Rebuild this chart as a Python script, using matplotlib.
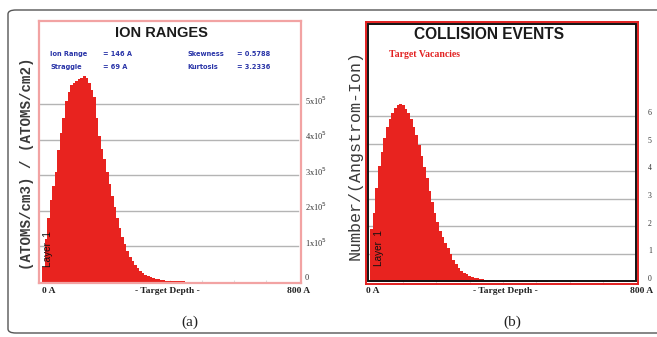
import numpy as np
import matplotlib.pyplot as plt
from matplotlib.patches import FancyBboxPatch, Rectangle

# SRIM style histograms, 8 A bins starting at 0 A
bin_w = 8.0

# ion ranges, (ATOMS/cm3)/(ATOMS/cm2), units of 1e5
ion_vals = [0.4, 1.2, 1.8, 2.3, 2.7, 3.1, 3.7, 4.2, 4.6, 5.1,
            5.35, 5.55, 5.6, 5.65, 5.72, 5.75, 5.8, 5.75, 5.6, 5.4,
            5.2, 4.6, 4.1, 3.75, 3.45, 3.1, 2.75, 2.4, 2.1, 1.8,
            1.5, 1.25, 1.05, 0.85, 0.7, 0.58, 0.47, 0.38, 0.3, 0.24,
            0.19, 0.15, 0.12, 0.09, 0.07, 0.06, 0.05, 0.04, 0.03, 0.03,
            0.02, 0.02, 0.015, 0.01, 0.01, 0.005]

# target vacancies, Number/(Angstrom-Ion)
vac_vals = [1.9, 2.5, 3.4, 4.2, 4.7, 5.2, 5.6, 5.9, 6.1, 6.3,
            6.42, 6.45, 6.4, 6.25, 6.1, 5.9, 5.6, 5.3, 4.95, 4.55,
            4.15, 3.75, 3.3, 2.9, 2.5, 2.15, 1.85, 1.6, 1.4, 1.2,
            1.0, 0.8, 0.65, 0.5, 0.4, 0.32, 0.26, 0.21, 0.17, 0.14,
            0.12, 0.1, 0.08, 0.07, 0.06, 0.05, 0.04, 0.035, 0.03, 0.025,
            0.02, 0.02, 0.015, 0.015, 0.01, 0.01, 0.01, 0.01, 0.01, 0.01,
            0.01, 0.01, 0.01, 0.01, 0.01, 0.01, 0.005]

ion_ticks = [0, 1, 2, 3, 4, 5]
ion_ticklabels = ['0', r'1x10$^{5}$', r'2x10$^{5}$', r'3x10$^{5}$', r'4x10$^{5}$', r'5x10$^{5}$']
vac_ticks = [0, 1, 2, 3, 4, 5, 6]

info_left = [('Ion Range', '= 146 A'), ('Straggle', '= 69 A')]
info_right = [('Skewness', '= 0.5788'), ('Kurtosis', '= 3.2336')]

red = '#e8231f'
grid_c = '#b4b4b4'
W, H = 657, 337

fig = plt.figure(figsize=(W / 100, H / 100), dpi=100)

# outer rounded frame (runs off the right edge)
frame = FancyBboxPatch((8 / W, 1 - 333 / H), 700 / W, (333 - 10) / H,
                       boxstyle='round,pad=0,rounding_size=0.012',
                       transform=fig.transFigure, fill=False,
                       ec='#555555', lw=1.0, clip_on=False)
fig.patches.append(frame)


def px_axes(x0, x1, y0, y1):
    return fig.add_axes([x0 / W, 1 - y1 / H, (x1 - x0) / W, (y1 - y0) / H])


def draw_hist(ax, vals, gridticks, grid_xmax):
    depth = np.arange(len(vals)) * bin_w
    for t in gridticks[1:]:
        ax.axhline(t, xmin=0, xmax=grid_xmax, color=grid_c, lw=1.0, zorder=1)
    ax.bar(depth, vals, width=bin_w, align='edge', color=red, lw=0, zorder=2)
    ax.set_xticks([100, 200, 300, 400, 500, 600, 700])
    ax.tick_params(axis='x', direction='in', length=2, color='#dddddd',
                   labelbottom=False, bottom=True)
    ax.set_yticks([])


# ---------------- (a) ION RANGES ----------------
axa = px_axes(38.5, 301.5, 21, 283)
axa.set_xlim(-11, 811)
axa.set_ylim(-0.04, 7.35)
draw_hist(axa, ion_vals, ion_ticks, 0.985)
for s in axa.spines.values():
    s.set_color('#f2a3a3')
    s.set_linewidth(1.6)

axa.text(0.466, 0.955, 'ION RANGES', transform=axa.transAxes, ha='center',
         va='center', fontsize=10.5, fontweight='bold', family='Liberation Sans',
         color='#1a1a1a')
for i, (k, v) in enumerate(info_left):
    y = 0.875 - i * 0.05
    axa.text(0.045, y, k, transform=axa.transAxes, fontsize=4.8,
             fontweight='bold', color='#2a35a8', va='center')
    axa.text(0.245, y, v, transform=axa.transAxes, fontsize=4.8,
             fontweight='bold', color='#2a35a8', va='center')
for i, (k, v) in enumerate(info_right):
    y = 0.875 - i * 0.05
    axa.text(0.565, y, k, transform=axa.transAxes, fontsize=4.8,
             fontweight='bold', color='#2a35a8', va='center')
    axa.text(0.755, y, v, transform=axa.transAxes, fontsize=4.8,
             fontweight='bold', color='#2a35a8', va='center')

for t, lab in zip(ion_ticks, ion_ticklabels):
    axa.text(812 + 10, t + 0.1, lab, fontsize=6, family='Liberation Serif',
             color='#333333', ha='left', va='center', clip_on=False)

axa.text(20, 0.42, 'Layer  1', rotation=90, fontsize=7.2, color='#111111',
         ha='center', va='bottom', family='Liberation Sans')

lab_kw = dict(fontsize=6.8, fontweight='bold', family='Liberation Serif',
              color='#222222', va='center')
fig.text(42 / W, 1 - 291 / H, '0 A', ha='left', **lab_kw)
fig.text(167 / W, 1 - 291 / H, '- Target Depth -', ha='center', **lab_kw)
fig.text(310 / W, 1 - 291 / H, '800 A', ha='right', **lab_kw)

fig.text(27 / W, 1 - 164 / H, '(ATOMS/cm3) / (ATOMS/cm2)', rotation=90,
         ha='center', va='center', fontsize=10.2, fontweight='bold',
         family='Liberation Mono', color='#3a3a3a')

fig.text(190 / W, 1 - 322 / H, '(a)', ha='center', va='center', fontsize=11,
         family='Liberation Serif', color='#222222')

# ---------------- (b) COLLISION EVENTS ----------------
axb = px_axes(366, 638, 21.5, 283.5)
axb.set_xlim(-12, 806)
axb.set_ylim(-0.07, 9.43)
draw_hist(axb, vac_vals, vac_ticks, 0.99)
for s in axb.spines.values():
    s.set_color('#e22020')
    s.set_linewidth(1.4)
inner = Rectangle((0.008, 0.008), 0.984, 0.984, transform=axb.transAxes,
                  fill=False, ec='#111111', lw=1.4, zorder=5)
axb.add_patch(inner)

axb.text(0.452, 0.95, 'COLLISION EVENTS', transform=axb.transAxes,
         ha='center', va='center', fontsize=11.2, fontweight='bold',
         family='Liberation Sans', color='#1a1a1a')
axb.text(0.085, 0.875, 'Target Vacancies', transform=axb.transAxes,
         fontsize=7, fontweight='bold', family='Liberation Serif',
         color='#e22020', va='center')

for t in vac_ticks:
    axb.text(806 + 36, t + 0.1, str(t), fontsize=5.6, family='Liberation Serif',
             color='#333333', ha='center', va='center', clip_on=False)

axb.text(26, 0.55, 'Layer  1', rotation=90, fontsize=7.2, color='#111111',
         ha='center', va='bottom', family='Liberation Sans')

fig.text(366 / W, 1 - 291 / H, '0 A', ha='left', **lab_kw)
fig.text(505 / W, 1 - 291 / H, '- Target Depth -', ha='center', **lab_kw)
fig.text(653 / W, 1 - 291 / H, '800 A', ha='right', **lab_kw)

fig.text(355 / W, 1 - 155 / H, 'Number/(Angstrom-Ion)', rotation=90,
         ha='center', va='center', fontsize=12, family='Liberation Mono',
         color='#3a3a3a')

fig.text(512 / W, 1 - 322 / H, '(b)', ha='center', va='center', fontsize=11,
         family='Liberation Serif', color='#222222')

fig.savefig('out.png', dpi=100)
